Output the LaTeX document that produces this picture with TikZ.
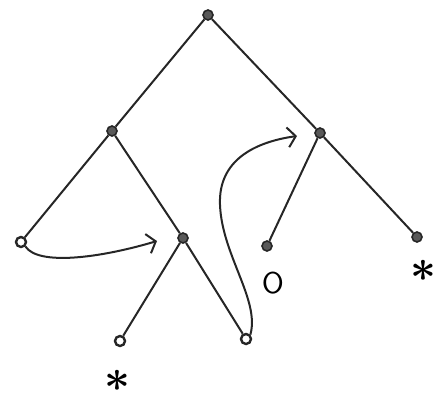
\documentclass[tikz,border=0pt]{standalone}
\usetikzlibrary{arrows.meta}
\begin{document}
\begin{tikzpicture}[x=1pt,y=-1pt,
  edge/.style={line width=2pt,black!85},
  full/.style={circle,draw=black!85,fill=black!65,line width=1.6pt,minimum size=10pt,inner sep=0pt},
  open/.style={circle,draw=black!85,fill=white,line width=2.4pt,minimum size=10pt,inner sep=0pt},
  hand/.style={line width=2pt,black!85,-{Straight Barb[length=8pt,width=20pt,line width=2pt]}},
  lbl/.style={inner sep=0pt,font=\boldmath,scale=4.5},
  olbl/.style={inner sep=0pt,font=\sffamily,scale=3}
]
\useasboundingbox (0,0) rectangle (443,402);
\node[full] (r) at (208,15) {};
\node[full] (a) at (112,131) {};
\node[full] (b) at (320,133) {};
\node[open] (l1) at (21,242) {};
\node[full] (c) at (183,238) {};
\node[open] (c1) at (120,341) {};
\node[open] (c2) at (246,339) {};
\node[full] (b1) at (267,246) {};
\node[full] (b2) at (417,237) {};
\node[lbl] (s1) at (117,381) {$\ast$};
\node[lbl] (s2) at (423,271) {$\ast$};
\node[olbl] (o) at (273,283) {O};
\draw[edge] (r) -- (a);
\draw[edge] (r) -- (b);
\draw[edge] (a) -- (l1);
\draw[edge] (a) -- (c);
\draw[edge] (c) -- (c1);
\draw[edge] (c) -- (c2);
\draw[edge] (b) -- (b1);
\draw[edge] (b) -- (b2);
\coordinate (e1) at (157,241);
\coordinate (e2) at (297,136);
\draw[hand] (l1.south east) .. controls (38,266) and (100,258) .. (e1);
\draw[hand] (c2.north east) .. controls (260,300) and (222,255) .. (220,205) .. controls (218,160) and (255,142) .. (e2);
\end{tikzpicture}
\end{document}
